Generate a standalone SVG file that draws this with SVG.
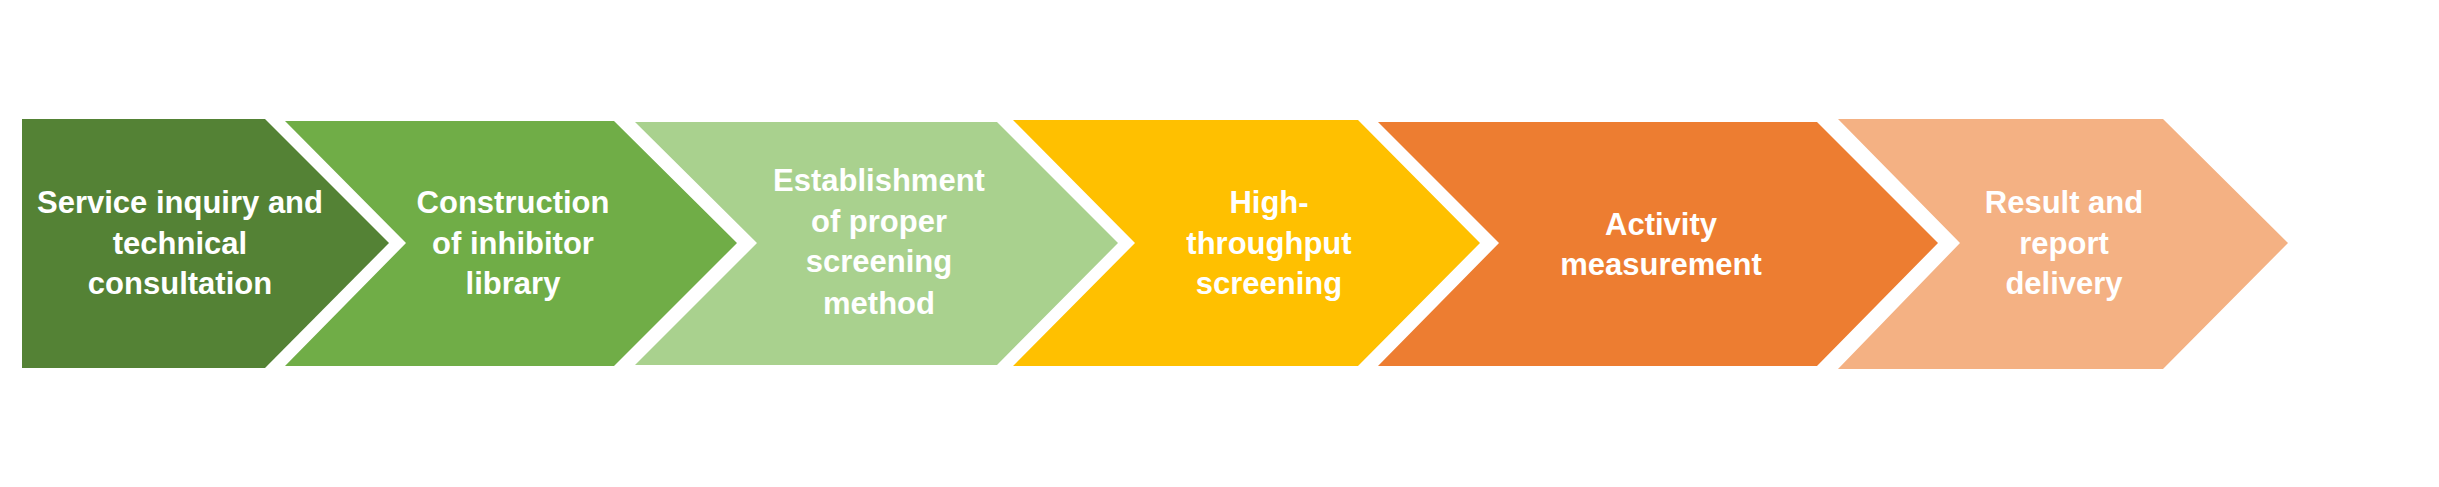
<svg xmlns="http://www.w3.org/2000/svg" width="2439" height="487" viewBox="0 0 2439 487">
<style>
.t{font-family:"Liberation Sans",Arial,sans-serif;font-weight:bold;font-size:31px;fill:#ffffff;text-anchor:middle}
</style>
<rect width="2439" height="487" fill="#ffffff"/>
<g id="connectors"></g>
<g id="step1">
<polygon points="22,119 265,119 389,243 265,368 22,368" fill="#548235"/>
<text class="t" x="180" y="213">Service inquiry and</text>
<text class="t" x="180" y="254">technical</text>
<text class="t" x="180" y="294">consultation</text>
</g>
<g id="step2">
<polygon points="285,121 614,121 737,243 614,366 285,366 406,243" fill="#70AD47"/>
<text class="t" x="513" y="213">Construction</text>
<text class="t" x="513" y="254">of inhibitor</text>
<text class="t" x="513" y="294">library</text>
</g>
<g id="step3">
<polygon points="635,122 997,122 1118,243 997,365 635,365 757,243" fill="#A9D18E"/>
<text class="t" x="879" y="191">Establishment</text>
<text class="t" x="879" y="232">of proper</text>
<text class="t" x="879" y="272">screening</text>
<text class="t" x="879" y="314">method</text>
</g>
<g id="step4">
<polygon points="1013,120 1358,120 1480,243 1358,366 1013,366 1135,243" fill="#FFC000"/>
<text class="t" x="1269" y="213">High-</text>
<text class="t" x="1269" y="254">throughput</text>
<text class="t" x="1269" y="294">screening</text>
</g>
<g id="step5">
<polygon points="1378,122 1817,122 1938,243 1817,366 1378,366 1499,243" fill="#ED7D31"/>
<text class="t" x="1661" y="235">Activity</text>
<text class="t" x="1661" y="275">measurement</text>
</g>
<g id="step6">
<polygon points="1838,119 2163,119 2288,243 2163,369 1838,369 1960,243" fill="#F4B183"/>
<text class="t" x="2064" y="213">Result and</text>
<text class="t" x="2064" y="254">report</text>
<text class="t" x="2064" y="294">delivery</text>
</g>
</svg>
